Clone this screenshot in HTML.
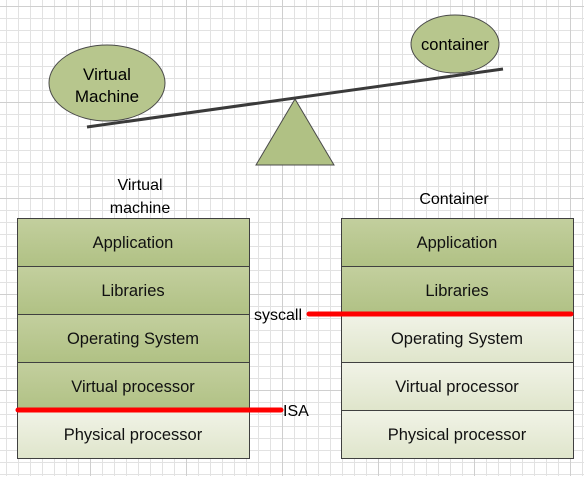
<!DOCTYPE html>
<html><head><style>
body{margin:0;width:584px;height:476px;overflow:hidden;background:#fff;font-family:"Liberation Sans",sans-serif;}
</style></head><body>
<svg width="584" height="476" xmlns="http://www.w3.org/2000/svg" font-family="Liberation Sans, sans-serif">
<defs>
<pattern id="mn" width="12" height="12" patternUnits="userSpaceOnUse" x="6" y="6">
<path d="M0 0.5H12M0.5 0V12" stroke="#e2e2e2" stroke-width="1" fill="none"/></pattern>
<pattern id="mj" width="96" height="96" patternUnits="userSpaceOnUse" x="90" y="6">
<path d="M0 0.5H96M0.5 0V96" stroke="#cfcfcf" stroke-width="1" fill="none"/></pattern>
<linearGradient id="g" x1="0" y1="0" x2="0" y2="1"><stop offset="0" stop-color="#c3cf9e"/><stop offset="1" stop-color="#b0c184"/></linearGradient>
<linearGradient id="l" x1="0" y1="0" x2="0" y2="1"><stop offset="0" stop-color="#f1f3e7"/><stop offset="1" stop-color="#dfe5cb"/></linearGradient>
</defs>
<rect width="584" height="476" fill="url(#mn)"/>
<rect width="584" height="476" fill="url(#mj)"/>
<ellipse cx="107" cy="83" rx="58" ry="38" fill="#b7c68d" stroke="#4a4a4a"/>
<text x="107" y="80" font-size="17" text-anchor="middle">Virtual</text>
<text x="107" y="102" font-size="17" text-anchor="middle">Machine</text>
<ellipse cx="455" cy="44" rx="44" ry="29" fill="#b7c68d" stroke="#4a4a4a"/>
<text x="455" y="50" font-size="16.5" text-anchor="middle">container</text>
<polygon points="295,99 256,165 334,165" fill="#b0c184" stroke="#4a4a4a"/>
<line x1="87" y1="127" x2="503" y2="69" stroke="#3a3a3a" stroke-width="3"/>
<text x="140" y="190" font-size="16" text-anchor="middle">Virtual</text>
<text x="140" y="213" font-size="16" text-anchor="middle">machine</text>
<text x="454" y="204" font-size="16" text-anchor="middle">Container</text>
<g stroke="#404040" stroke-width="1">
<rect x="17.5" y="218.5" width="232" height="48" fill="url(#g)"/>
<rect x="17.5" y="266.5" width="232" height="48" fill="url(#g)"/>
<rect x="17.5" y="314.5" width="232" height="48" fill="url(#g)"/>
<rect x="17.5" y="362.5" width="232" height="48" fill="url(#g)"/>
<rect x="17.5" y="410.5" width="232" height="48" fill="url(#l)"/>
<rect x="341.5" y="218.5" width="232" height="48" fill="url(#g)"/>
<rect x="341.5" y="266.5" width="232" height="48" fill="url(#g)"/>
<rect x="341.5" y="314.5" width="232" height="48" fill="url(#l)"/>
<rect x="341.5" y="362.5" width="232" height="48" fill="url(#l)"/>
<rect x="341.5" y="410.5" width="232" height="48" fill="url(#l)"/>
</g>
<g font-size="16.5" text-anchor="middle" fill="#111">
<text x="133" y="248">Application</text>
<text x="133" y="296">Libraries</text>
<text x="133" y="344">Operating System</text>
<text x="133" y="392">Virtual processor</text>
<text x="133" y="440">Physical processor</text>
<text x="457" y="248">Application</text>
<text x="457" y="296">Libraries</text>
<text x="457" y="344">Operating System</text>
<text x="457" y="392">Virtual processor</text>
<text x="457" y="440">Physical processor</text>
</g>
<line x1="18" y1="410" x2="281" y2="410" stroke="#f00" stroke-width="5" stroke-linecap="round"/>
<line x1="309" y1="314" x2="571" y2="314" stroke="#f00" stroke-width="5" stroke-linecap="round"/>
<text x="283" y="416" font-size="16">ISA</text>
<text x="254" y="320" font-size="16">syscall</text>
</svg>
</body></html>
